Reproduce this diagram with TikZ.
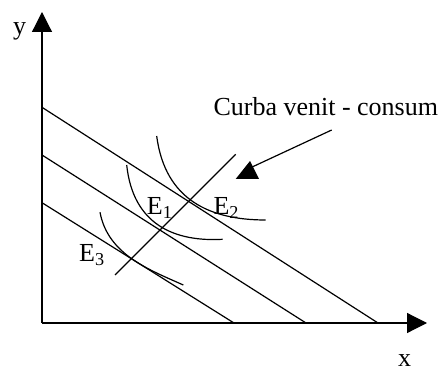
\documentclass[tikz,border=0pt]{standalone}
\usepackage{fontspec}
\setmainfont{Liberation Serif}
\usetikzlibrary{arrows.meta,positioning,calc}

\begin{document}
\begin{tikzpicture}[
    x=1pt, y=-1pt,
    every node/.style={inner sep=0pt, font=\fontsize{26}{30}\selectfont},
    axis/.style={line width=1.2pt, -{Triangle[length=20pt,width=20pt]}},
    budget/.style={line width=1.2pt},
    indif/.style={line width=1.2pt},
    icc/.style={line width=1.2pt},
    pointer/.style={line width=1.2pt}
]
\useasboundingbox (0,0) rectangle (444,371);

% Axes
\coordinate (O) at (42,323);
\coordinate (ytop) at (42,12);
\coordinate (xend) at (427,323);
\draw[axis] (O) -- (ytop);
\draw[axis] (O) -- (xend);
\node[anchor=base] (ylab) at (19.5,35) {y};
\node[anchor=base] (xlab) at (404.5,366) {x};

% Budget lines
\coordinate (b1y) at (42,107.3);  \coordinate (b1x) at (378,323);
\coordinate (b2y) at (42,155);    \coordinate (b2x) at (306,323);
\coordinate (b3y) at (42,202.7);  \coordinate (b3x) at (234,323);
\draw[budget] (b1y) -- (b1x);
\draw[budget] (b2y) -- (b2x);
\draw[budget] (b3y) -- (b3x);

% Income-consumption curve
\coordinate (iccA) at (115,275);
\coordinate (iccB) at (235.7,154.3);
\draw[icc] (iccA) -- (iccB);

% Indifference curves
\draw[indif] (156.7,136) .. controls (165,200) and (210,220) .. (265.7,220);
\draw[indif] (126.7,165) .. controls (133,225) and (175,242) .. (222.7,239.3);
\draw[indif] (100,212.3) .. controls (108,255) and (150,270) .. (183.3,285);

% Equilibrium labels
\node[anchor=base west] (E1) at (146.7,215) {E\textsubscript{1}};
\node[anchor=base west] (E2) at (213.3,215) {E\textsubscript{2}};
\node[anchor=base west] (E3) at (79,261.7) {E\textsubscript{3}};

% Pointer to the curve
\node[anchor=base west] (curba) at (213.3,116) {Curba venit - consum};
\coordinate (ptrstart) at (331.7,130);
\coordinate (ptrend) at (250,168);
\draw[pointer] (ptrstart) -- (ptrend);
\fill (235.7,179) -- (259,179) -- (250,161) -- cycle;

\end{tikzpicture}
\end{document}
